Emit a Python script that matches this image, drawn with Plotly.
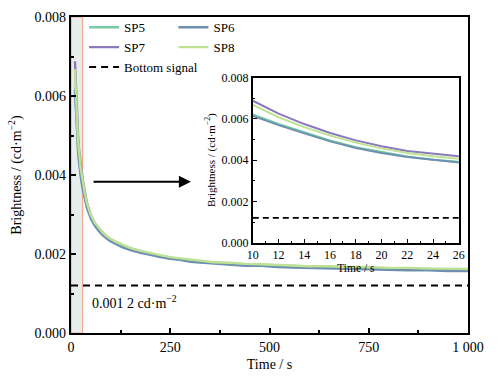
import plotly.graph_objects as go

# ---------------- data ----------------
time_s = [10, 12, 14, 16, 18, 20, 22, 24, 26, 30, 35, 40, 50, 60, 70, 80, 90, 100,
          115, 130, 150, 175, 200, 225, 250, 275, 300, 330, 360, 400, 440, 480,
          520, 560, 600, 650, 700, 750, 800, 850, 900, 950, 1000]

# brightness in 1e-3 cd/m^2
sp5_m = [6.22, 5.76, 5.35, 4.95, 4.63, 4.39, 4.18, 4.02, 3.89, 3.65, 3.40, 3.20, 2.92, 2.74, 2.61, 2.50, 2.42, 2.35,
         2.27, 2.20, 2.12, 2.06, 1.99, 1.95, 1.90, 1.85, 1.83, 1.79, 1.78, 1.74, 1.73, 1.72, 1.69, 1.69, 1.66,
         1.66, 1.64, 1.65, 1.62, 1.62, 1.60, 1.61, 1.59]
sp6_m = [6.15, 5.70, 5.30, 4.91, 4.59, 4.35, 4.15, 3.99, 3.86, 3.62, 3.37, 3.17, 2.89, 2.71, 2.58, 2.47, 2.39, 2.32,
         2.24, 2.17, 2.10, 2.03, 1.98, 1.92, 1.88, 1.85, 1.80, 1.78, 1.75, 1.74, 1.70, 1.70, 1.67, 1.66, 1.65,
         1.63, 1.63, 1.61, 1.61, 1.59, 1.59, 1.57, 1.57]
sp7_m = [6.88, 6.26, 5.75, 5.32, 4.96, 4.67, 4.44, 4.29, 4.17, 3.86, 3.55, 3.30, 2.98, 2.78, 2.64, 2.53, 2.44, 2.37,
         2.29, 2.22, 2.14, 2.07, 2.01, 1.95, 1.91, 1.86, 1.84, 1.80, 1.78, 1.76, 1.73, 1.72, 1.70, 1.70, 1.67,
         1.67, 1.65, 1.64, 1.64, 1.62, 1.62, 1.60, 1.60]
sp8_m = [6.68, 6.08, 5.60, 5.19, 4.85, 4.57, 4.35, 4.19, 4.07, 3.80, 3.52, 3.29, 2.98, 2.79, 2.65, 2.54, 2.45, 2.38,
         2.30, 2.23, 2.15, 2.08, 2.02, 1.97, 1.92, 1.89, 1.85, 1.83, 1.79, 1.78, 1.75, 1.74, 1.72, 1.71, 1.69,
         1.69, 1.67, 1.67, 1.65, 1.65, 1.63, 1.63, 1.62]

bottom_signal = 0.0012
bottom_x = [0, 1000]
inset_bottom_x = [10, 26]
highlight_range = [0, 29]

series_names = ["SP5", "SP6", "SP7", "SP8"]
series_vals = [sp5_m, sp6_m, sp7_m, sp8_m]
series_colors = ["#74cda2", "#6f8fb0", "#8b79bb", "#bde294"]

main_xticks = [0, 250, 500, 750, 1000]
main_xticktext = ["0", "250", "500", "750", "1 000"]
main_yticks = [0, 0.002, 0.004, 0.006, 0.008]
main_yticktext = ["0.000", "0.002", "0.004", "0.006", "0.008"]
inset_xticks = [10, 12, 14, 16, 18, 20, 22, 24, 26]

FONT = "Times New Roman"

fig = go.Figure()

# highlight rectangle (region shown in inset)
fig.add_shape(type="rect", xref="x", yref="y",
              x0=highlight_range[0], x1=highlight_range[1], y0=0, y1=0.008,
              fillcolor="#e9eded", line=dict(color="#f2a990", width=1.2), layer="below")

draw_order = [2, 0, 1, 3]
legend_of = {0: "legend", 1: "legend2", 2: "legend", 3: "legend2"}
for i in draw_order:
    yv = [v * 1e-3 for v in series_vals[i]]
    fig.add_trace(go.Scatter(x=time_s, y=yv, mode="lines", name=series_names[i],
                             line=dict(color=series_colors[i], width=2.4),
                             legend=legend_of[i], legendrank=i + 1,
                             xaxis="x", yaxis="y"))
    fig.add_trace(go.Scatter(x=time_s, y=yv, mode="lines", name=series_names[i],
                             line=dict(color=series_colors[i], width=2),
                             showlegend=False, xaxis="x2", yaxis="y2"))

fig.add_trace(go.Scatter(x=bottom_x, y=[bottom_signal] * 2, mode="lines", name="Bottom signal",
                         line=dict(color="black", width=2, dash="7px,5px"),
                         legend="legend", legendrank=10, xaxis="x", yaxis="y"))
fig.add_trace(go.Scatter(x=inset_bottom_x, y=[bottom_signal] * 2, mode="lines",
                         line=dict(color="black", width=1.6, dash="6px,4px"),
                         showlegend=False, xaxis="x2", yaxis="y2"))

axis_common = dict(showline=True, linecolor="black", mirror=True, ticks="inside",
                   tickcolor="black", showgrid=False, zeroline=False, automargin=False)

fig.update_layout(
    width=499, height=381,
    margin=dict(l=71, r=31, t=15, b=48),
    plot_bgcolor="white", paper_bgcolor="white",
    font=dict(family=FONT, size=13, color="black"),
    xaxis=dict(**axis_common, range=[0, 1000], tickvals=main_xticks, ticktext=main_xticktext,
               linewidth=2.2, ticklen=5, tickwidth=1.5,
               minor=dict(ticks="inside", ticklen=3, tickcolor="black", dtick=125, tick0=0),
               title=dict(text="Time / s", font=dict(family=FONT, size=14), standoff=5),
               tickfont=dict(family=FONT, size=14)),
    yaxis=dict(**axis_common, range=[0, 0.008], tickvals=main_yticks, ticktext=main_yticktext,
               linewidth=2.2, ticklen=5, tickwidth=1.5,
               minor=dict(ticks="inside", ticklen=3, tickcolor="black", dtick=0.001, tick0=0),
               title=dict(text="Brightness / (cd·m<sup>−2</sup>)", font=dict(family=FONT, size=14), standoff=10),
               tickfont=dict(family=FONT, size=14)),
    xaxis2=dict(**axis_common, domain=[0.458, 0.977], anchor="y2", range=[10, 26],
                tickvals=inset_xticks, linewidth=1.8, ticklen=4, tickwidth=1.2,
                minor=dict(ticks="inside", ticklen=2, tickcolor="black", dtick=1, tick0=10),
                title=dict(text="Time / s", font=dict(family=FONT, size=11.5), standoff=0),
                tickfont=dict(family=FONT, size=12)),
    yaxis2=dict(**axis_common, domain=[0.286, 0.808], anchor="x2", range=[0, 0.008],
                tickvals=main_yticks, ticktext=main_yticktext, linewidth=1.8, ticklen=4, tickwidth=1.2,
                minor=dict(ticks="inside", ticklen=2, tickcolor="black", dtick=0.001, tick0=0),
                title=dict(text="Brightness / (cd·m<sup>−2</sup>)", font=dict(family=FONT, size=11), standoff=4),
                tickfont=dict(family=FONT, size=12)),
    legend=dict(x=0.033, y=1.015, xanchor="left", yanchor="top", bgcolor="rgba(0,0,0,0)",
                font=dict(family=FONT, size=13), itemwidth=30, tracegroupgap=0),
    legend2=dict(x=0.258, y=1.015, xanchor="left", yanchor="top", bgcolor="rgba(0,0,0,0)",
                 font=dict(family=FONT, size=13), itemwidth=30, tracegroupgap=0),
    showlegend=True,
)

# arrow pointing from highlighted region to inset
fig.add_annotation(x=302, y=0.00383, ax=53, ay=0.00383, xref="x", yref="y", axref="x", ayref="y",
                   showarrow=True, arrowhead=2, arrowsize=1.2, arrowwidth=2, arrowcolor="black", text="")

fig.add_annotation(x=48, y=0.00078, xref="x", yref="y", xanchor="left", yanchor="middle",
                   showarrow=False, text="0.001 2 cd·m<sup>−2</sup>", font=dict(family=FONT, size=14))

fig.write_html("out.html", post_script="document.body.style.margin='0';",
               config={"displayModeBar": False})
